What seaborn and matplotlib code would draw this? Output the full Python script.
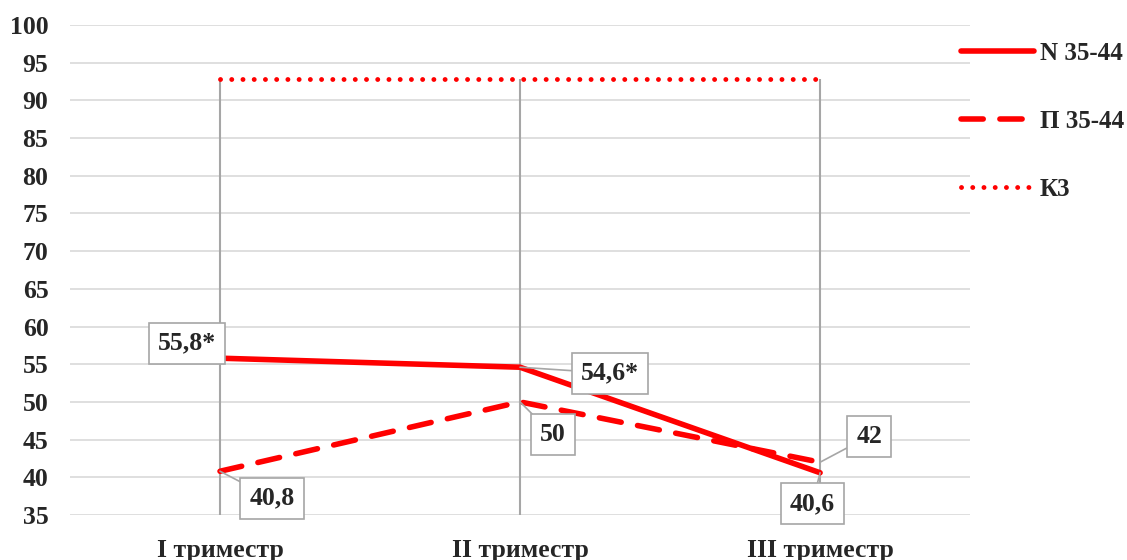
import matplotlib
matplotlib.use("Agg")
import matplotlib.pyplot as plt
import seaborn as sns
import pandas as pd

# Values by trimester
categories = ["I триместр", "II триместр", "III триместр"]
n_values = [55.8, 54.6, 40.6]
p_values = [40.8, 50.0, 42.0]
k_values = [92.8, 92.8, 92.8]
n_labels = ["55,8*", "54,6*", "40,6"]
p_labels = ["40,8", "50", "42"]
series_names = ["N 35-44", "П 35-44", "К3"]
y_ticks = list(range(35, 101, 5))

sns.set_theme(style="white")
plt.rcParams["font.family"] = ["Liberation Serif", "DejaVu Serif"]
plt.rcParams["font.weight"] = "bold"

fig = plt.figure(figsize=(11.27, 5.6), dpi=100)
ax = fig.add_axes([0.0621, 0.0804, 0.7987, 0.8750])

x = list(range(len(categories)))
red = "#FF0000"
grey = "#A6A6A6"

# Drop lines from the highest series down to the axis floor
tops = [max(a, b, c) for a, b, c in zip(n_values, p_values, k_values)]
ax.vlines(x, y_ticks[0], tops, color=grey, lw=1.5, zorder=1)

df = pd.DataFrame({"x": x, "N": n_values, "P": p_values, "K": k_values})
sns.lineplot(data=df, x="x", y="N", ax=ax, color=red, lw=4,
             label=series_names[0], solid_capstyle="round", zorder=3)
sns.lineplot(data=df, x="x", y="P", ax=ax, color=red, lw=4,
             label=series_names[1], zorder=3)
ax.lines[-1].set_dashes([4, 3])
ax.lines[-1].set_dash_capstyle("round")
sns.lineplot(data=df, x="x", y="K", ax=ax, color=red, lw=3.5,
             label=series_names[2], zorder=3)
ax.lines[-1].set_dashes([0.01, 2.3])
ax.lines[-1].set_dash_capstyle("round")

ax.set_xlim(-0.5, 2.5)
ax.set_ylim(y_ticks[0], y_ticks[-1])
ax.set_yticks(y_ticks)
ax.set_xticks(x)
ax.set_xticklabels(categories)
ax.set_xlabel("")
ax.set_ylabel("")
ax.grid(axis="y", color="#D9D9D9", lw=1.2)
ax.grid(axis="x", visible=False)
ax.set_axisbelow(True)
for s in ax.spines.values():
    s.set_visible(False)
ax.tick_params(axis="y", length=0, pad=15.5, labelsize=18.5)
ax.tick_params(axis="x", length=0, pad=17, labelsize=18.5)
for t in ax.get_xticklabels() + ax.get_yticklabels():
    t.set_fontweight("bold")

# Value callouts
box = dict(boxstyle="square,pad=0.35", fc="white", ec=grey, lw=1.2)
arrow = dict(arrowstyle="-", color=grey, lw=1.2, shrinkA=0, shrinkB=0)
n_offsets = [(-33, 15), (90, -6), (-8, -31)]
p_offsets = [(52, -27), (33, -33), (49, 26)]
for xi, v, lab, off in zip(x, n_values, n_labels, n_offsets):
    ax.annotate(lab, (xi, v), xytext=off, textcoords="offset pixels",
                ha="center", va="center", fontsize=18.5, fontweight="bold",
                bbox=box, arrowprops=arrow, zorder=5)
for xi, v, lab, off in zip(x, p_values, p_labels, p_offsets):
    ax.annotate(lab, (xi, v), xytext=off, textcoords="offset pixels",
                ha="center", va="center", fontsize=18.5, fontweight="bold",
                bbox=box, arrowprops=arrow, zorder=5)

ax.get_legend().remove()
handles, labels = ax.get_legend_handles_labels()
fig.legend(handles, labels, loc="upper left", bbox_to_anchor=(0.833, 0.966),
           frameon=False, handlelength=2.9, labelspacing=1.8,
           handletextpad=0.25, prop={"weight": "bold", "size": 18})

fig.savefig("out.png", dpi=100)
